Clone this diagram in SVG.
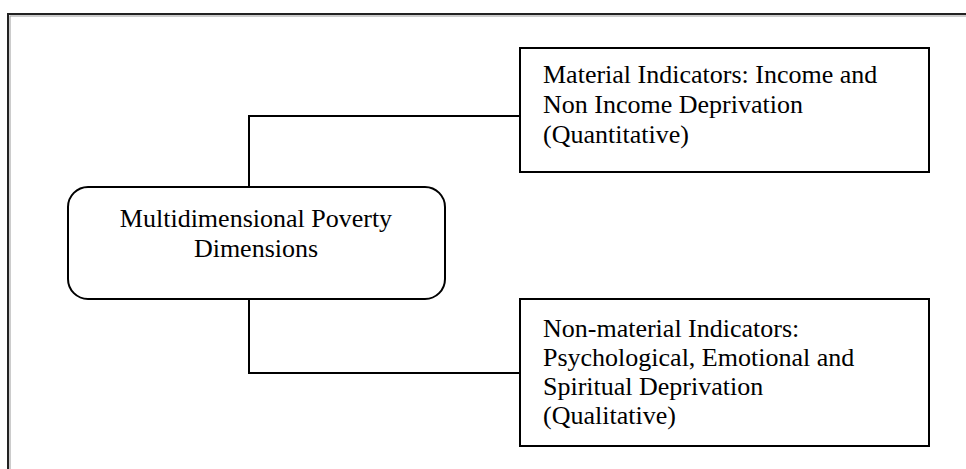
<svg xmlns="http://www.w3.org/2000/svg" width="966" height="469" viewBox="0 0 966 469">
<style>
.box{fill:#fff;stroke:#000;stroke-width:2}
.t{font-family:"Liberation Serif","Times New Roman",serif;font-size:26px;fill:#000}
.c{fill:none;stroke:#000;stroke-width:2}
</style>
<rect x="0" y="0" width="966" height="469" fill="#fff"/>
<rect id="frame" x="8" y="14" width="980" height="480" fill="none" stroke="#222" stroke-width="2"/>
<rect x="10" y="16" width="980" height="480" fill="none" stroke="#999" stroke-width="1"/>
<g id="connectors">
<polyline class="c" points="249,187 249,116 520,116"/>
<polyline class="c" points="249,299 249,373 520,373"/>
</g>
<g id="center">
<rect class="box" x="68" y="187" width="377" height="112" rx="20" ry="20"/>
<text class="t" x="256" y="227" text-anchor="middle">Multidimensional Poverty</text>
<text class="t" x="256" y="257" text-anchor="middle">Dimensions</text>
</g>
<g id="material">
<rect class="box" x="520" y="48" width="409" height="124"/>
<text class="t" x="543" y="83">Material Indicators: Income and</text>
<text class="t" x="543" y="113">Non Income Deprivation</text>
<text class="t" x="543" y="143">(Quantitative)</text>
</g>
<g id="nonmaterial">
<rect class="box" x="520" y="299" width="409" height="147"/>
<text class="t" x="543" y="337">Non-material Indicators:</text>
<text class="t" x="543" y="366">Psychological, Emotional and</text>
<text class="t" x="543" y="395">Spiritual Deprivation</text>
<text class="t" x="543" y="424">(Qualitative)</text>
</g>
</svg>
